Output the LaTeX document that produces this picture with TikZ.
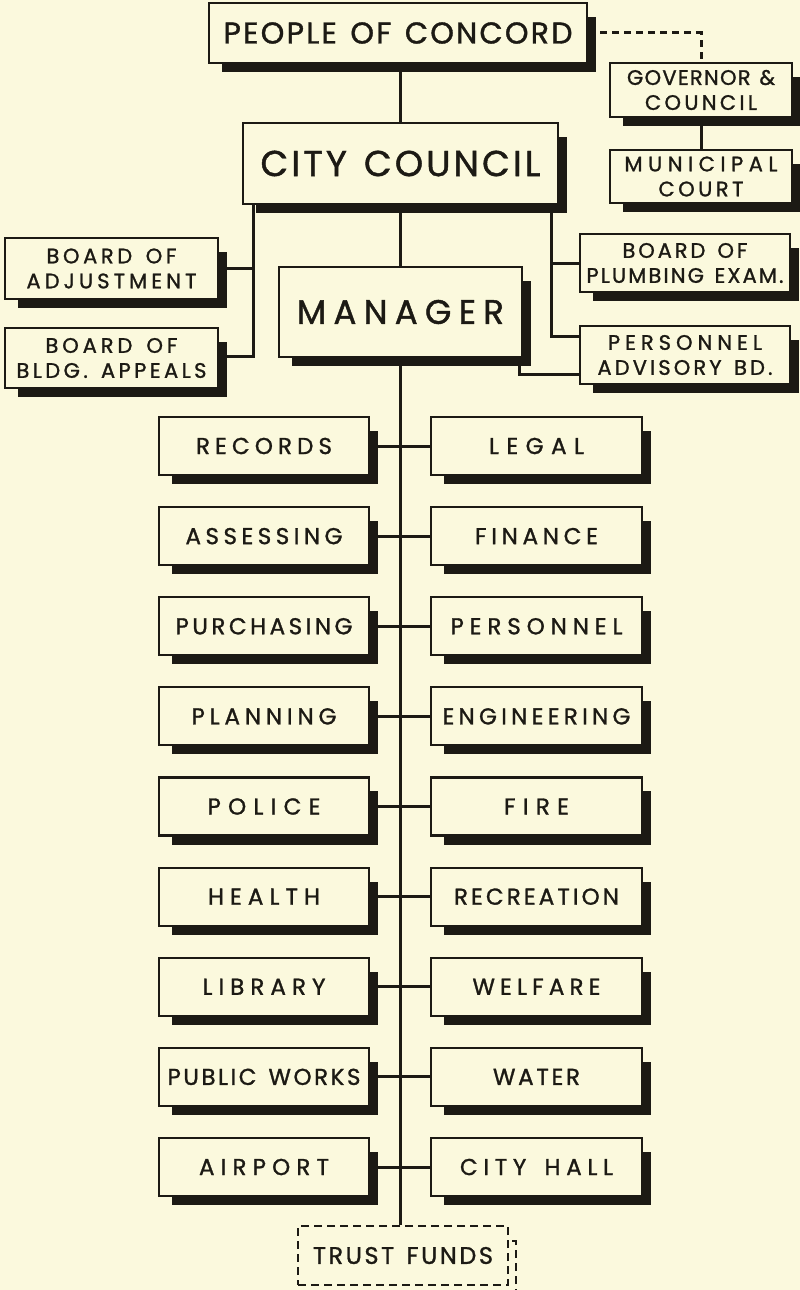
\documentclass[tikz,border=0pt]{standalone}
\usepackage{fontspec}
\setmainfont{Poppins}[FakeBold=1.2]
\usetikzlibrary{backgrounds}

\definecolor{paper}{HTML}{FBF9DD}
\definecolor{ink}{HTML}{1C1A14}

% \spread{width}{text}: sets the text letter-spaced so that it fills the given width (in pt)
\ExplSyntaxOn
\dim_new:N \l_spread_kern_dim
\int_new:N \g_spread_gaps_int
\box_new:N \l_spread_box
\tl_new:N \l_spread_text_tl
\seq_new:N \l_spread_words_seq
\bool_new:N \l_spread_first_bool
\bool_new:N \l_spread_letter_bool
\cs_new_protected:Npn \spread_word:n #1
  {
    \bool_set_true:N \l_spread_letter_bool
    \tl_map_inline:nn {#1}
      {
        \bool_if:NF \l_spread_letter_bool
          { \kern \l_spread_kern_dim \int_gincr:N \g_spread_gaps_int }
        \bool_set_false:N \l_spread_letter_bool
        ##1
      }
  }
\cs_new_protected:Npn \spread_build:n #1
  {
    \int_gzero:N \g_spread_gaps_int
    \seq_set_split:Nnn \l_spread_words_seq { ~ } { #1 }
    \bool_set_true:N \l_spread_first_bool
    \seq_map_inline:Nn \l_spread_words_seq
      {
        \bool_if:NF \l_spread_first_bool
          {
            \kern \l_spread_kern_dim
            \skip_horizontal:n { 0.3em }
            \kern \l_spread_kern_dim
            \int_gadd:Nn \g_spread_gaps_int { 2 }
          }
        \bool_set_false:N \l_spread_first_bool
        \spread_word:n {##1}
      }
  }
\cs_generate_variant:Nn \spread_build:n { V }
\NewDocumentCommand \spread { m m }
  {
    \tl_set:Ne \l_spread_text_tl {#2}
    \dim_zero:N \l_spread_kern_dim
    \hbox_set:Nn \l_spread_box { \spread_build:V \l_spread_text_tl }
    \int_compare:nNnTF \g_spread_gaps_int > 0
      {
        \dim_set:Nn \l_spread_kern_dim
          { ( #1pt - \box_wd:N \l_spread_box ) / \g_spread_gaps_int }
      }
      { \dim_zero:N \l_spread_kern_dim }
    \spread_build:V \l_spread_text_tl
  }
\ExplSyntaxOff

\tikzset{
  box/.style={rectangle, draw=ink, line width=2.2pt, fill=paper, inner sep=0pt,
    align=center, text=ink},
  dept/.style={box, minimum width=210pt, minimum height=58pt,
    font=\fontsize{23}{27}\selectfont},
  board/.style={box, font=\fontsize{21}{25}\selectfont},
  conn/.style={draw=ink, line width=3pt},
  dashconn/.style={draw=ink, line width=3pt, dash pattern=on 7pt off 5pt},
  trustline/.style={draw=ink, line width=2pt, dash pattern=on 8pt off 5pt},
}

\begin{document}
\begin{tikzpicture}[x=1pt, y=-1pt]
\useasboundingbox (0,0) rectangle (800,1290);

% top of the organisation
\node[box, minimum width=378pt, minimum height=60pt, font=\fontsize{30}{34}\selectfont]
  (people) at (398,33) {\spread{349}{PEOPLE OF CONCORD}};
\node[box, minimum width=315pt, minimum height=81pt, font=\fontsize{36}{40}\selectfont]
  (council) at (400.5,163.5) {\spread{280}{CITY COUNCIL}};
\node[board, minimum width=182pt, minimum height=54pt]
  (gov) at (701,90) {\spread{148}{GOVERNOR \&}\\\spread{112}{COUNCIL}};
\node[board, minimum width=182pt, minimum height=53pt]
  (court) at (701,176.5) {\spread{153}{MUNICIPAL}\\\spread{85}{COURT}};

% boards beside the manager
\node[board, minimum width=213pt, minimum height=61pt]
  (adj) at (111.5,268.5) {\spread{130}{BOARD OF}\\\spread{170}{ADJUSTMENT}};
\node[board, minimum width=213pt, minimum height=60pt]
  (bldg) at (111.5,358) {\spread{132}{BOARD OF}\\\spread{190}{BLDG. APPEALS}};
\node[box, minimum width=243pt, minimum height=90pt, font=\fontsize{34}{38}\selectfont]
  (manager) at (400.5,312) {\spread{207}{MANAGER}};
\node[board, minimum width=210pt, minimum height=58pt]
  (plumb) at (685,263) {\spread{125}{BOARD OF}\\\spread{197}{PLUMBING EXAM.}};
\node[board, minimum width=210pt, minimum height=58pt]
  (padv) at (685,355) {\spread{154}{PERSONNEL}\\\spread{175}{ADVISORY BD.}};

% departments under the manager
\foreach \i/\ln/\lt/\lw/\rn/\rt/\rw in {
  0/records/RECORDS/136/legal/LEGAL/95,
  1/assessing/ASSESSING/157/finance/FINANCE/123,
  2/purchasing/PURCHASING/177/personnel/PERSONNEL/172,
  3/planning/PLANNING/145/engineering/ENGINEERING/188,
  4/police/POLICE/113/fire/FIRE/65,
  5/health/HEALTH/112/recreation/RECREATION/165,
  6/library/LIBRARY/123/welfare/WELFARE/128,
  7/publicworks/PUBLIC WORKS/193/water/WATER/87,
  8/airport/AIRPORT/130/cityhall/CITY HALL/153}{
  \node[dept] (\ln) at (264,446+90.125*\i) {\spread{\lw}{\lt}};
  \node[dept, minimum width=211pt] (\rn) at (536.5,446+90.125*\i) {\spread{\rw}{\rt}};
}

\node[rectangle, trustline, fill=paper, minimum width=210pt, minimum height=59pt,
  inner sep=0pt, text=ink, font=\fontsize{24}{28}\selectfont]
  (trust) at (403,1255.5) {\spread{180}{TRUST FUNDS}};

% connectors
\coordinate (cl) at ([xshift=12pt]council.south west);
\coordinate (cr) at ([xshift=-8pt]council.south east);
\draw[conn] (council.north |- people.south) -- (council.north);
\draw[dashconn] (people.east) -| (gov.north);
\draw[conn] (gov.south) -- (court.north);
\draw[conn] (cl) |- ([yshift=2pt]bldg.east);
\draw[conn] (adj.east) -| (cl);
\draw[conn] (cr) |- (plumb.west);
\draw[conn] (cr) |- ([yshift=19pt]padv.west);
\draw[conn] (council.south) -- (council.south |- manager.north);
\draw[conn] ([xshift=-4pt]manager.south east) |- ([yshift=-19pt]padv.west);
\draw[conn] (council.south |- manager.south) -- (council.south |- trust.north);
\foreach \l/\r in {records/legal, assessing/finance, purchasing/personnel,
  planning/engineering, police/fire, health/recreation, library/welfare,
  publicworks/water, airport/cityhall}{
  \draw[conn] (\l.east) -- (\r.west);
}

% paper and drop shadows
\begin{scope}[on background layer]
  \fill[paper] (0,0) rectangle (800,1290);
  \foreach \n in {people, council, gov, court, adj, bldg, manager, plumb, padv,
    records, legal, assessing, finance, purchasing, personnel, planning,
    engineering, police, fire, health, recreation, library, welfare,
    publicworks, water, airport, cityhall}{
    \fill[ink] ([xshift=14pt,yshift=-8pt]\n.south west)
      rectangle ([xshift=8pt,yshift=-15pt]\n.north east);
  }
\end{scope}
\draw[trustline] ([xshift=20pt,yshift=-7pt]trust.south west)
  -| ([xshift=7pt,yshift=-16pt]trust.north east) -- ([yshift=-16pt]trust.north east);
\end{tikzpicture}
\end{document}
